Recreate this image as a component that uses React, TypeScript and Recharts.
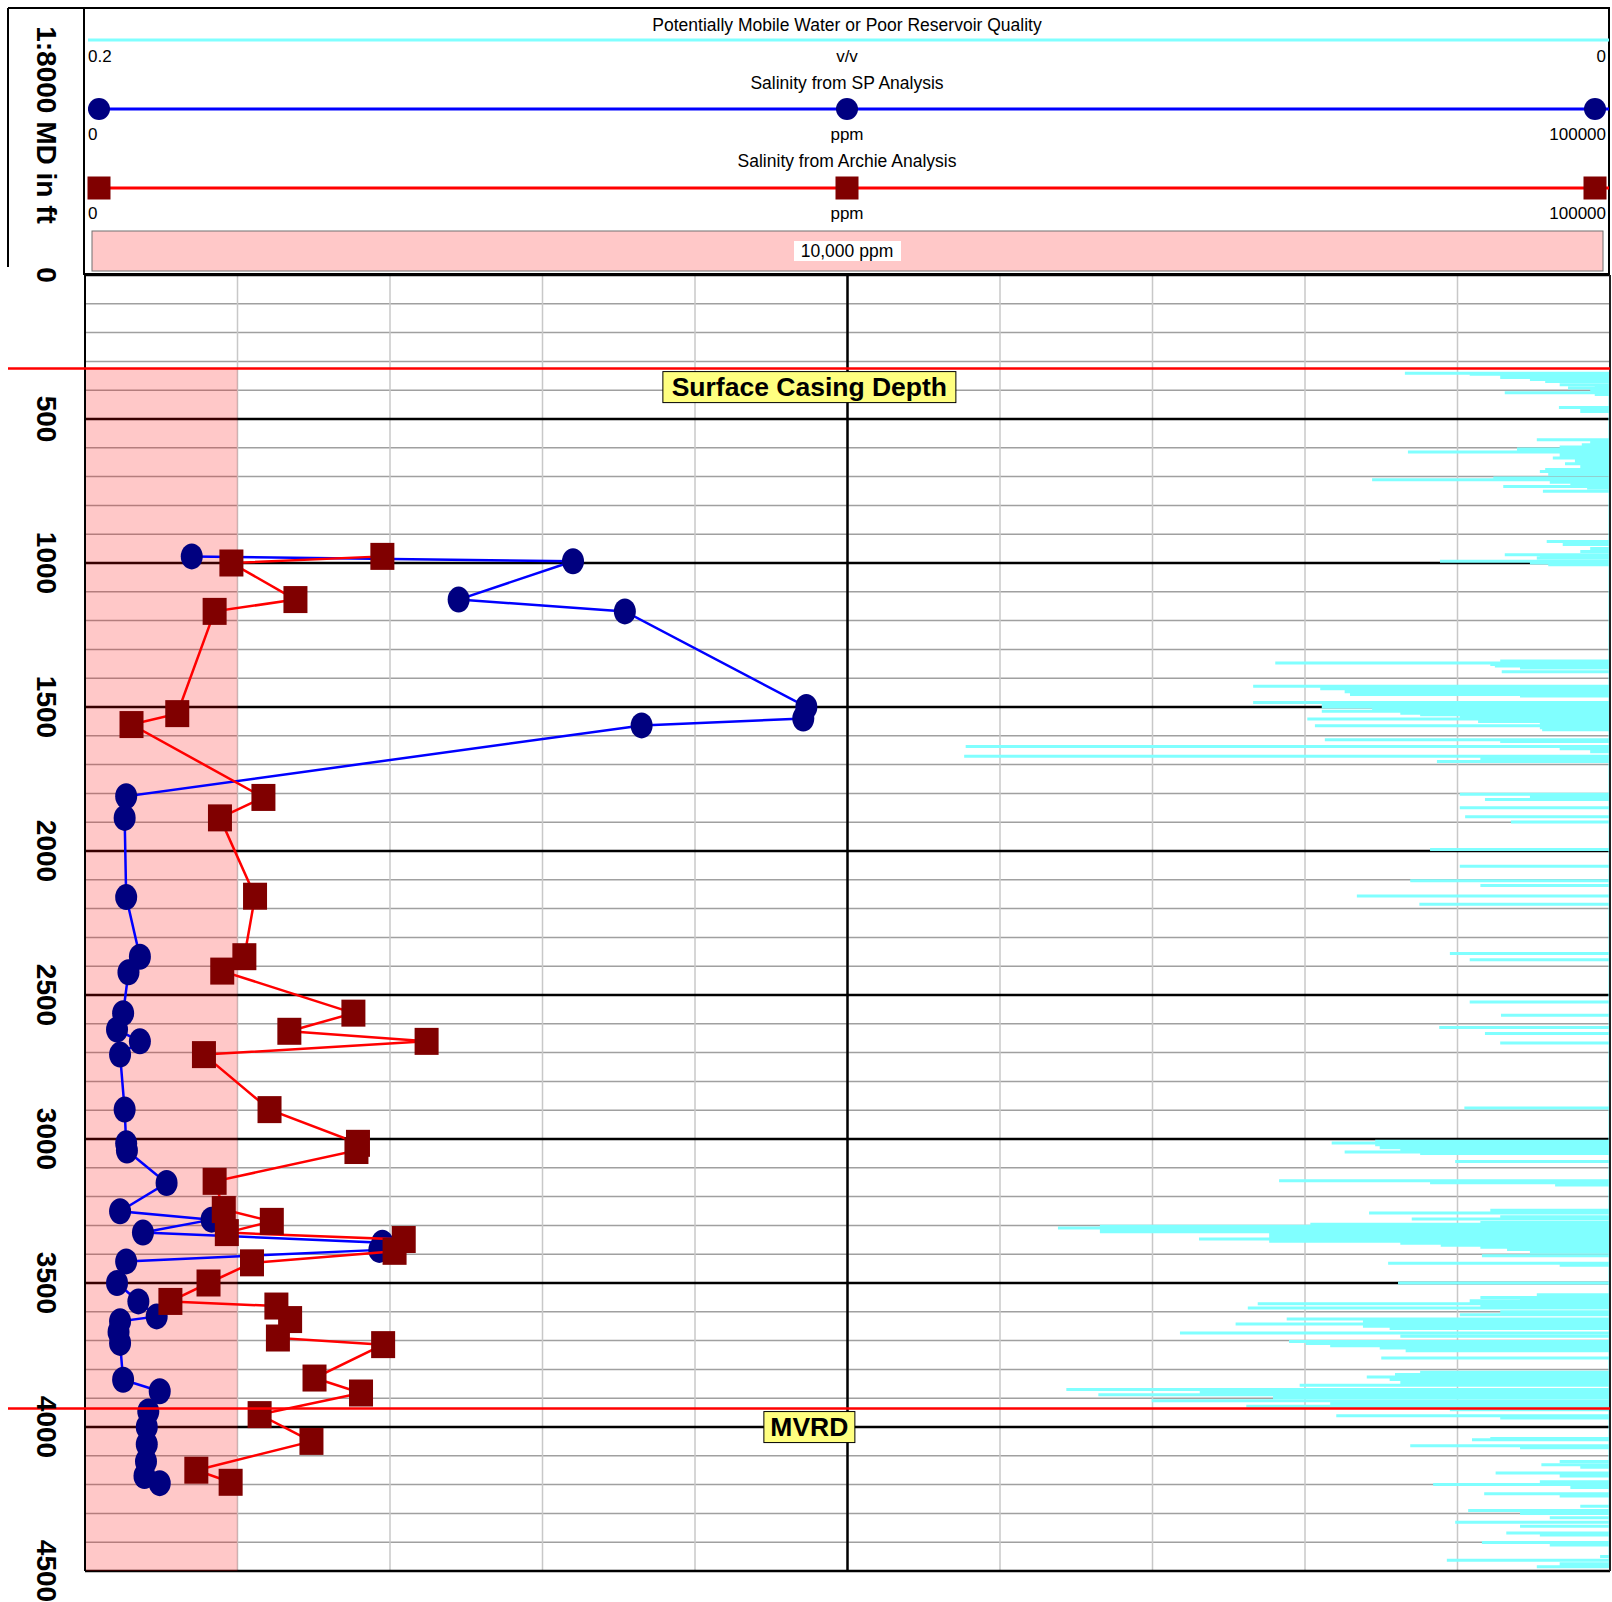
import React from 'react';
import { ScatterChart, Scatter, XAxis, YAxis, CartesianGrid, ReferenceLine, ReferenceArea } from 'recharts';

// ---------- data ----------
const spDepth = [977, 994, 1127, 1168, 1500, 1540, 1564, 1810, 1885, 2160, 2367, 2421, 2563, 2620, 2661, 2707, 2898, 3015, 3040, 3153, 3251, 3280, 3325, 3360, 3385, 3425, 3500, 3564, 3616, 3633, 3670, 3708, 3836, 3876, 3946, 4000, 4060, 4120, 4170, 4195];
const spPpm = [7000, 32000, 24500, 35400, 47300, 47100, 36500, 2700, 2600, 2700, 3600, 2850, 2500, 2100, 3600, 2300, 2600, 2700, 2750, 5350, 2300, 8300, 3800, 19500, 19300, 2700, 2100, 3500, 4700, 2300, 2200, 2300, 2500, 4900, 4150, 4050, 4050, 4000, 3900, 4900];

const archieDepth = [977, 1000, 1127, 1168, 1523, 1561, 1814, 1885, 2157, 2367, 2417, 2563, 2626, 2661, 2707, 2898, 3015, 3040, 3147, 3245, 3286, 3325, 3349, 3390, 3430, 3500, 3564, 3580, 3627, 3691, 3714, 3830, 3882, 3957, 4050, 4150, 4192];
const archiePpm = [19500, 9600, 13800, 8500, 6050, 3050, 11700, 8850, 11150, 10450, 9000, 17600, 13400, 22400, 7800, 12100, 17900, 17800, 8500, 9100, 12250, 9300, 20900, 20300, 10950, 8100, 5600, 12550, 13450, 12650, 19550, 15050, 18100, 11450, 14850, 7300, 9550];

const mobileDepth = [341, 345, 350, 356, 363, 370, 381, 386, 392, 397, 400, 409, 415, 460, 468, 474, 572, 580, 589, 597, 604, 615, 625, 635, 645, 655, 665, 675, 682, 693, 705, 711, 720, 727, 734, 740, 751, 925, 936, 950, 960, 971, 977, 983, 994, 1000, 1006,
  1340, 1347, 1352, 1358, 1365, 1378, 1428, 1433, 1437, 1442, 1447, 1452, 1457, 1462, 1484, 1490, 1495, 1500, 1505, 1510, 1515, 1522, 1527, 1535, 1542, 1550, 1558, 1565, 1572, 1579, 1614, 1620, 1637, 1645, 1655, 1671, 1680, 1689,
  1803, 1812, 1821, 1850, 1881, 1899, 1995, 2053, 2103, 2120, 2156, 2185, 2356, 2378, 2524, 2570, 2613, 2634, 2667, 2892,
  3008, 3014, 3020, 3030, 3038, 3045, 3050, 3078, 3145, 3152, 3160, 3247, 3257, 3270, 3278, 3290, 3296, 3303, 3309, 3315, 3322, 3330, 3340, 3347, 3355, 3362, 3369, 3376, 3384, 3393, 3405, 3431, 3438, 3500, 3541,
  3550, 3556, 3562, 3572, 3580, 3587, 3600, 3610, 3625, 3632, 3642, 3650, 3658, 3674, 3685, 3703, 3710, 3718, 3726, 3735, 3760, 3810, 3818, 3826, 3835, 3845, 3855, 3870, 3878, 3888, 3898, 3909, 3918, 3928, 3940, 3961, 3969,
  4040, 4044, 4065, 4072, 4120, 4131, 4140, 4160, 4170, 4190, 4200, 4210, 4232, 4240, 4275, 4290, 4300, 4315, 4331, 4345, 4368, 4375, 4401, 4410, 4450, 4463, 4475, 4485];
const mobileVv = [0.0269, 0.0184, 0.0144, 0.0144, 0.0105, 0.0085, 0.0066, 0.002, 0.0055, 0.0026, 0.0026, 0.0138, 0.002, 0.0067, 0.0039, 0.0039, 0.0096, 0.0026, 0.0037, 0.0066, 0.0122, 0.0265, 0.0066, 0.0075, 0.0046, 0.0059, 0.0039, 0.0085, 0.0092, 0.0081, 0.0153, 0.0312, 0.0079, 0.0052, 0.014, 0.003, 0.0088, 0.0083, 0.0062, 0.0026, 0.0039, 0.0138, 0.0092, 0.0096, 0.0223, 0.0105, 0.0081,
  0.0144, 0.0439, 0.0157, 0.0151, 0.0118, 0.0142, 0.0468, 0.0157, 0.038, 0.0157, 0.0348, 0.0147, 0.0341, 0.0118, 0.0468, 0.0367, 0.0378, 0.0378, 0.0312, 0.0262, 0.0378, 0.0275, 0.0249, 0.0197, 0.0397, 0.0173, 0.0092, 0.0387, 0.0092, 0.0089, 0.0374, 0.0144, 0.0845, 0.0066, 0.0026, 0.0847, 0.017, 0.0227,
  0.0197, 0.0105, 0.0164, 0.0197, 0.019, 0.013, 0.0236, 0.0197, 0.0262, 0.017, 0.0332, 0.025, 0.021, 0.0184, 0.0184, 0.0143, 0.0224, 0.0164, 0.0144, 0.0191,
  0.0308, 0.0365, 0.0308, 0.0302, 0.0275, 0.0348, 0.0249, 0.0203, 0.0434, 0.0236, 0.0072, 0.0157, 0.0316, 0.0144, 0.026, 0.017, 0.0393, 0.0669, 0.0724, 0.0669, 0.0669, 0.0447, 0.0447, 0.0539, 0.0447, 0.0275, 0.0222, 0.017, 0.0135, 0.0105, 0.0168, 0.0291, 0.0066, 0.0278, 0.0096,
  0.017, 0.0118, 0.0184, 0.0462, 0.017, 0.0475, 0.0144, 0.0197, 0.0424, 0.0324, 0.0491, 0.0324, 0.0289, 0.0564, 0.0275, 0.0421, 0.0399, 0.0367, 0.0302, 0.0268, 0.03, 0.0249, 0.0282, 0.0319, 0.0289, 0.0275, 0.0407, 0.0713, 0.0538, 0.0671, 0.0442, 0.0601, 0.0367, 0.0477, 0.021, 0.0359, 0.0144,
  0.0157, 0.0181, 0.0262, 0.0118, 0.0066, 0.009, 0.0039, 0.015, 0.0066, 0.0092, 0.0232, 0.0052, 0.0165, 0.0066, 0.0039, 0.0186, 0.0118, 0.0079, 0.0203, 0.0118, 0.0136, 0.0092, 0.0168, 0.0079, 0.0013, 0.0214, 0.0066, 0.0096];

const depthTicks = [0, 500, 1000, 1500, 2000, 2500, 3000, 3500, 4000, 4500];
const ppmTicks = [0, 10000, 20000, 30000, 40000, 50000, 60000, 70000, 80000, 90000, 100000];
const minorDepthTicks = Array.from({ length: 46 }, (_, i) => i * 100);
const casingDepth = 325;
const mvrdDepth = 3936;
const cutoffPpm = 10000;
const mobileBaseline = 0; // fill from the curve to v/v = 0 (right edge of the reversed scale)

const spData = spDepth.map((d, i) => ({ depth: d, ppm: spPpm[i] }));
const archieData = archieDepth.map((d, i) => ({ depth: d, ppm: archiePpm[i] }));
// each sample drawn as a horizontal stroke from the baseline to the curve value and back
const mobileData = mobileDepth.flatMap((d, i) => [
  { depth: d, vv: mobileBaseline },
  { depth: d, vv: mobileVv[i] },
  { depth: d, vv: mobileBaseline },
]);

const FONT = '"Liberation Sans", Arial, sans-serif';

const DepthTick = (props: any) => {
  const { y, payload } = props;
  return (
    <text x={46} y={y} transform={`rotate(90 46 ${y})`} textAnchor="middle" dominantBaseline="central"
      fontFamily={FONT} fontSize={28} fontWeight="bold" fill="#000">{payload.value}</text>
  );
};

const Circle = (p: any) => <ellipse cx={p.cx} cy={p.cy} rx={11} ry={13} fill="#000080" />;
const Square = (p: any) => <rect x={p.cx - 12} y={p.cy - 13.5} width={24} height={27} fill="#800000" />;
const NoMarker = () => <g />;

const ExtendedLine = (p: any) => (
  <line x1={p.x1 - 77} y1={p.y1} x2={p.x2} y2={p.y2} stroke="#FF0000" strokeWidth={2.5} />
);

const ZoneLabel = (p: any) => {
  const vb = p.viewBox || { x: 0, y: 0, width: 0 };
  const cx = vb.x + vb.width * 0.475;
  const top = vb.y + 3;
  return (
    <g>
      <rect x={cx - p.w / 2} y={top} width={p.w} height={31} fill="#FFFF80" stroke="#000" strokeWidth={1} />
      <text x={cx} y={top + 24} textAnchor="middle" fontFamily={FONT} fontSize={26.5} fontWeight="bold" fill="#000">{p.text}</text>
    </g>
  );
};

const Header = () => (
  <svg width={1612} height={290} style={{ position: 'absolute', left: 0, top: 0, pointerEvents: 'none' }}>
    <g fontFamily={FONT} fill="#000">
      <line x1={8} y1={8} x2={1610} y2={8} stroke="#000" strokeWidth={2} />
      <line x1={8} y1={8} x2={8} y2={267} stroke="#000" strokeWidth={2} />
      <line x1={84} y1={8} x2={84} y2={275} stroke="#000" strokeWidth={2} />
      <line x1={1609} y1={8} x2={1609} y2={275} stroke="#000" strokeWidth={2} />
      <line x1={84} y1={274} x2={1610} y2={274} stroke="#000" strokeWidth={2} />
      <text x={46} y={125} transform="rotate(90 46 125)" textAnchor="middle" dominantBaseline="central" fontSize={28} fontWeight="bold">1:8000 MD in ft</text>

      <text x={847} y={31} textAnchor="middle" fontSize={17.5}>Potentially Mobile Water or Poor Reservoir Quality</text>
      <line x1={88} y1={40} x2={1609} y2={40} stroke="#80FFFF" strokeWidth={3} />
      <text x={88} y={62} fontSize={17}>0.2</text>
      <text x={847} y={62} textAnchor="middle" fontSize={17}>v/v</text>
      <text x={1606} y={62} textAnchor="end" fontSize={17}>0</text>

      <text x={847} y={89} textAnchor="middle" fontSize={17.5}>Salinity from SP Analysis</text>
      <line x1={88} y1={109} x2={1609} y2={109} stroke="#0000FF" strokeWidth={3} />
      <circle cx={99} cy={109} r={11} fill="#000080" />
      <circle cx={847} cy={109} r={11} fill="#000080" />
      <circle cx={1595} cy={109} r={11} fill="#000080" />
      <text x={88} y={140} fontSize={17}>0</text>
      <text x={847} y={140} textAnchor="middle" fontSize={17}>ppm</text>
      <text x={1606} y={140} textAnchor="end" fontSize={17}>100000</text>

      <text x={847} y={167} textAnchor="middle" fontSize={17.5}>Salinity from Archie Analysis</text>
      <line x1={88} y1={188} x2={1609} y2={188} stroke="#FF0000" strokeWidth={3} />
      <rect x={87.5} y={176.5} width={23} height={23} fill="#800000" />
      <rect x={835.5} y={176.5} width={23} height={23} fill="#800000" />
      <rect x={1583.5} y={176.5} width={23} height={23} fill="#800000" />
      <text x={88} y={219} fontSize={17}>0</text>
      <text x={847} y={219} textAnchor="middle" fontSize={17}>ppm</text>
      <text x={1606} y={219} textAnchor="end" fontSize={17}>100000</text>

      <rect x={92} y={231} width={1511} height={40} fill="#FFC8C8" stroke="#707070" strokeWidth={1} />
      <rect x={794} y={241} width={107} height={20} fill="#FFFFFF" />
      <text x={847} y={257} textAnchor="middle" fontSize={17.5}>10,000 ppm</text>
    </g>
  </svg>
);

export default function App() {
  return (
    <div style={{ position: 'absolute', left: 0, top: 0, width: 1612, height: 1602, background: '#fff', fontFamily: FONT }}>
      <ScatterChart width={1612} height={1602} margin={{ top: 275, right: 2, bottom: 31, left: 0 }}>
        <XAxis xAxisId="ppm" dataKey="ppm" type="number" domain={[0, 100000]} ticks={ppmTicks} hide />
        <XAxis xAxisId="vv" dataKey="vv" type="number" domain={[0, 0.2]} reversed hide allowDataOverflow />
        <YAxis yAxisId="depth" dataKey="depth" type="number" domain={[0, 4500]} ticks={depthTicks} reversed
          width={85} interval={0} tickLine={false} axisLine={{ stroke: '#000', strokeWidth: 2 }} tick={<DepthTick />} allowDataOverflow />
        <YAxis yAxisId="minor" type="number" domain={[0, 4500]} ticks={minorDepthTicks} reversed hide interval={0} allowDataOverflow />

        <CartesianGrid xAxisId="ppm" yAxisId="minor" vertical={false} stroke="#A0A0A0" strokeWidth={1.5} />
        <CartesianGrid xAxisId="ppm" yAxisId="minor" horizontal={false} stroke="#C8C8C8" strokeWidth={1.5} />
        <CartesianGrid xAxisId="ppm" yAxisId="depth" vertical={false} stroke="#000" strokeWidth={2.5} />

        <ReferenceArea xAxisId="ppm" yAxisId="depth" x1={0} x2={cutoffPpm} y1={casingDepth} y2={4500}
          fill="#FF0000" fillOpacity={0.216} stroke="none" />
        <ReferenceLine xAxisId="ppm" yAxisId="depth" x={50000} stroke="#000" strokeWidth={2.5} />

        <Scatter name="Potentially Mobile Water or Poor Reservoir Quality" data={mobileData} xAxisId="vv" yAxisId="depth"
          line={{ stroke: '#80FFFF', strokeWidth: 3, strokeLinejoin: 'bevel' }} shape={<NoMarker />} isAnimationActive={false} />

        <ReferenceLine xAxisId="ppm" yAxisId="depth" x={100000} stroke="#222" strokeWidth={2} zIndex={650} />

        <Scatter name="Salinity from SP Analysis" data={spData} xAxisId="ppm" yAxisId="depth"
          line={{ stroke: '#0000FF', strokeWidth: 2.5 }} shape={<Circle />} isAnimationActive={false} />
        <Scatter name="Salinity from Archie Analysis" data={archieData} xAxisId="ppm" yAxisId="depth"
          line={{ stroke: '#FF0000', strokeWidth: 2.5 }} shape={<Square />} isAnimationActive={false} />

        <ReferenceLine xAxisId="ppm" yAxisId="depth" y={casingDepth} stroke="#FF0000" strokeWidth={2.5}
          shape={ExtendedLine} zIndex={900} label={<ZoneLabel text="Surface Casing Depth" w={293} />} />
        <ReferenceLine xAxisId="ppm" yAxisId="depth" y={mvrdDepth} stroke="#FF0000" strokeWidth={2.5}
          shape={ExtendedLine} zIndex={900} label={<ZoneLabel text="MVRD" w={91} />} />
      </ScatterChart>
      <Header />
    </div>
  );
}
